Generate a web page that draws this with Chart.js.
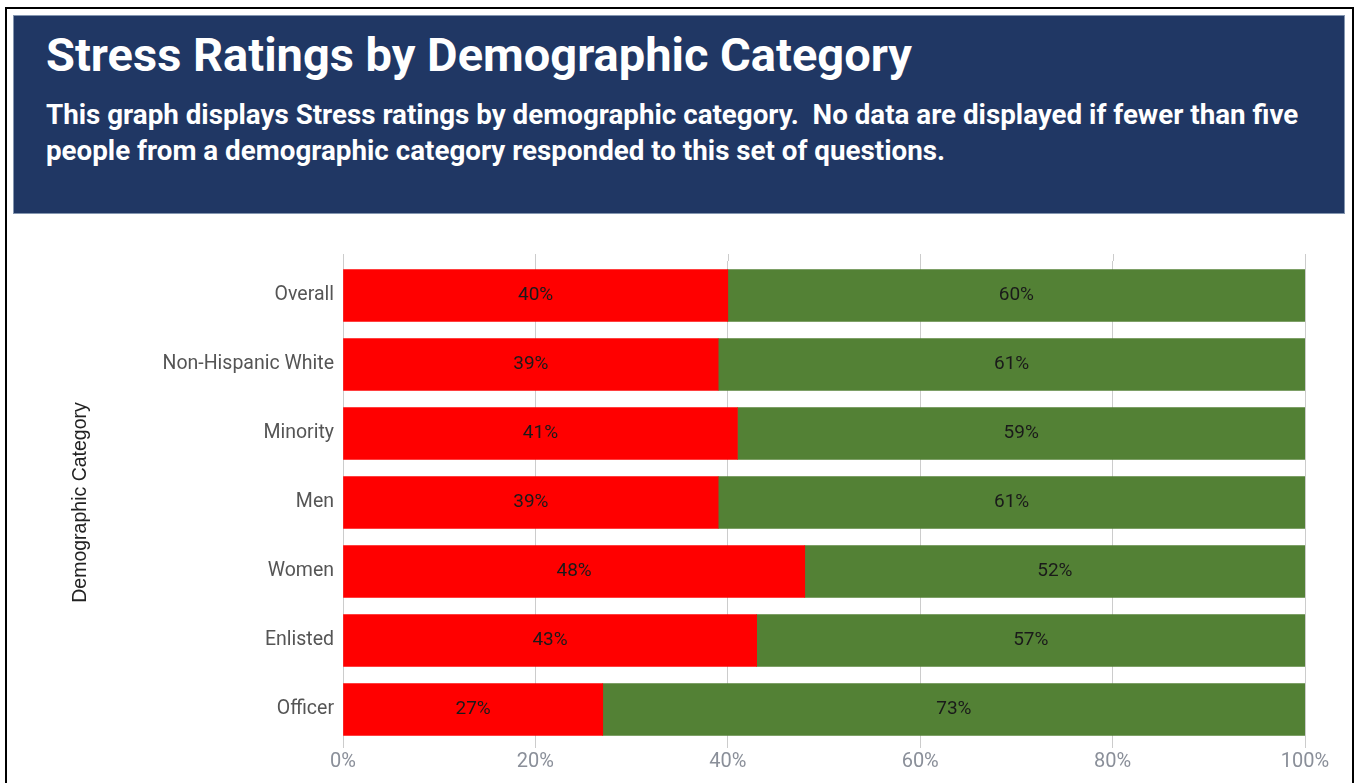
<!DOCTYPE html>
<html>
<head>
<meta charset="utf-8">
<script src="https://cdn.jsdelivr.net/npm/chart.js@4/dist/chart.umd.min.js"></script>
<style>
  html, body { margin: 0; padding: 0; background: #fff; width: 1354px; height: 783px; overflow: hidden; }
  #frame { position: absolute; left: 5px; top: 7px; width: 1349px; height: 790px; border: 2px solid #000; box-sizing: border-box; }
  #header { position: absolute; left: 13px; top: 15px; width: 1332px; height: 199px; background: #203764; border: 1px solid #8496b0; box-sizing: border-box; z-index: 2; }
  #title { position: absolute; left: 32px; top: 11px; margin: 0; font-family: Roboto, sans-serif; font-weight: bold; font-size: 47px; line-height: normal; color: #fff; white-space: nowrap; }
  #subtitle { position: absolute; left: 32px; top: 81px; margin: 0; font-family: Roboto, sans-serif; font-weight: bold; font-size: 27.75px; line-height: 36px; color: #fff; white-space: nowrap; }
  #c { position: absolute; left: 0; top: 0; z-index: 1; }
</style>
</head>
<body>
<div id="frame"></div>
<div id="header">
  <div id="title">Stress Ratings by Demographic Category</div>
  <div id="subtitle">This graph displays Stress ratings by demographic category.&nbsp; No data are displayed if fewer than five<br>people from a demographic category responded to this set of questions.</div>
</div>
<canvas id="c" width="1354" height="783"></canvas>
<script>
const categories = ["Overall", "Non-Hispanic White", "Minority", "Men", "Women", "Enlisted", "Officer"];
const stressedValues = [40, 39, 41, 39, 48, 43, 27];
const notStressedValues = [60, 61, 59, 61, 52, 57, 73];
const xTickValues = [0, 20, 40, 60, 80, 100];
const yAxisTitle = "Demographic Category";

const barLabels = {
  id: 'barLabels',
  afterDatasetsDraw(chart) {
    const ctx = chart.ctx;
    ctx.save();
    ctx.font = '19px Roboto';
    ctx.fillStyle = '#1a1a1a';
    ctx.textAlign = 'center';
    ctx.textBaseline = 'middle';
    chart.data.datasets.forEach((ds, i) => {
      const meta = chart.getDatasetMeta(i);
      meta.data.forEach((el, j) => {
        const p = el.getProps(['x', 'base', 'y'], true);
        ctx.fillText(ds.data[j] + '%', (p.x + p.base) / 2, p.y);
      });
    });
    ctx.restore();
  }
};

const extras = {
  id: 'extras',
  beforeDatasetsDraw(chart) {
    const ctx = chart.ctx, xs = chart.scales.x, top = chart.chartArea.top;
    ctx.save();
    ctx.strokeStyle = '#cccccc';
    ctx.lineWidth = 1;
    xTickValues.forEach(v => {
      const px = Math.round(xs.getPixelForValue(v)) + 0.5;
      ctx.beginPath(); ctx.moveTo(px, top - 7); ctx.lineTo(px, top); ctx.stroke();
    });
    ctx.restore();
  },
  afterDraw(chart) {
    const ctx = chart.ctx, a = chart.chartArea;
    ctx.save();
    ctx.translate(81, (a.top + a.bottom) / 2);
    ctx.rotate(-Math.PI / 2);
    ctx.font = '19.5px "Liberation Sans", Arial, sans-serif';
    ctx.fillStyle = '#222';
    ctx.textAlign = 'center';
    ctx.textBaseline = 'middle';
    ctx.fillText(yAxisTitle, 0, 0);
    ctx.restore();
  }
};

new Chart(document.getElementById('c'), {
  type: 'bar',
  data: {
    labels: categories,
    datasets: [
      { label: 'Stressed', data: stressedValues, backgroundColor: '#ff0000', barThickness: 52 },
      { label: 'Not stressed', data: notStressedValues, backgroundColor: '#538135', barThickness: 52 }
    ]
  },
  options: {
    indexAxis: 'y',
    responsive: false,
    animation: false,
    events: [],
    layout: { padding: { top: 261, right: 49, left: 0, bottom: 0 } },
    plugins: { legend: { display: false }, tooltip: { enabled: false } },
    scales: {
      x: {
        stacked: true,
        min: 0, max: 100,
        afterBuildTicks(s) { s.ticks = xTickValues.map(v => ({ value: v })); },
        afterFit(s) { s.height = 39; },
        grid: { color: '#cccccc', drawTicks: true, tickLength: 4, tickColor: '#cccccc' },
        border: { display: false },
        ticks: { padding: 2, color: '#8a8f99', font: { family: 'Roboto', size: 20 }, callback: v => v + '%', maxRotation: 0 }
      },
      y: {
        stacked: true,
        afterFit(s) { s.width = 343; },
        grid: { display: false, drawTicks: false },
        border: { display: true, color: '#cccccc' },
        ticks: { padding: 9, color: '#555', font: { family: 'Roboto', size: 19.5 } }
      }
    }
  },
  plugins: [barLabels, extras]
});
</script>
</body>
</html>
